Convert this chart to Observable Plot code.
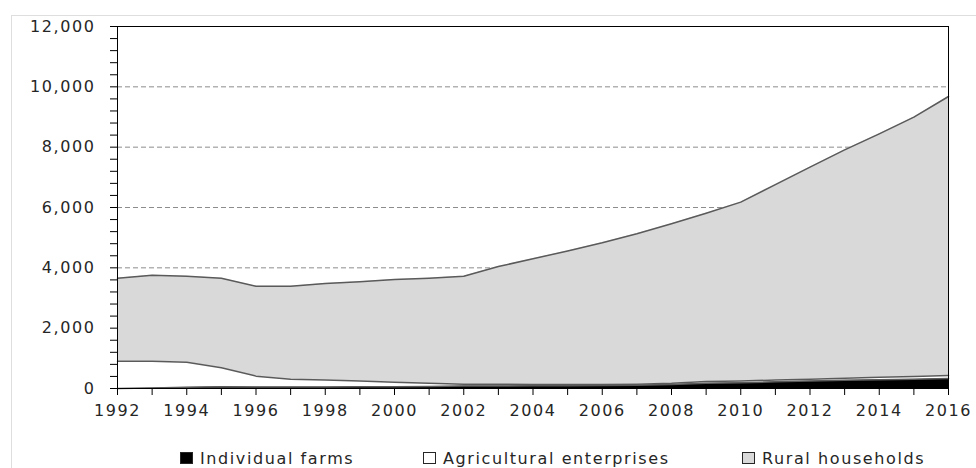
<!DOCTYPE html>
<html>
<head>
<meta charset="utf-8">
<script src="https://cdn.jsdelivr.net/npm/d3@7"></script>
<script src="https://cdn.jsdelivr.net/npm/@observablehq/plot@0.6"></script>
<style>
  html, body { margin: 0; padding: 0; background: #fff; }
  #wrap { position: relative; width: 976px; height: 468px; overflow: hidden; }
  #border { position: absolute; left: 11px; top: 15px; width: 1100px; height: 600px; border: 1px solid #dedede; box-sizing: border-box; }
  #chart { position: absolute; left: 0; top: 0; }
  #legend { position: absolute; left: 0; top: 448px; width: 976px; height: 20px; font-family: "DejaVu Sans", sans-serif; font-size: 16px; letter-spacing: 1.6px; color: #262626; }
  .item { position: absolute; top: 0; display: flex; align-items: center; height: 20px; white-space: nowrap; }
  .sw { width: 13px; height: 12px; box-sizing: border-box; margin-right: 7px; border: 1px solid #262626; }
</style>
</head>
<body>
<div id="wrap">
  <div id="border"></div>
  <div id="chart"></div>
  <div id="legend"></div>
</div>
<script>
const years = [1992,1993,1994,1995,1996,1997,1998,1999,2000,2001,2002,2003,2004,2005,2006,2007,2008,2009,2010,2011,2012,2013,2014,2015,2016];
const seriesNames = ["Individual farms", "Agricultural enterprises", "Rural households"];
const seriesColors = ["#000000", "#ffffff", "#d9d9d9"];
// values (stack components)
const individualFarms = [0, 20, 40, 60, 50, 50, 50, 55, 60, 70, 80, 85, 90, 95, 100, 110, 130, 170, 190, 220, 250, 270, 290, 310, 330];
const agriculturalEnterprises = [905, 885, 832, 630, 360, 260, 230, 190, 150, 100, 65, 55, 45, 35, 35, 30, 40, 60, 60, 60, 60, 70, 80, 90, 100];
const ruralHouseholds = [2751, 2851, 2851, 2967, 2982, 3082, 3200, 3291, 3403, 3487, 3578, 3904, 4165, 4430, 4695, 4990, 5290, 5580, 5927, 6480, 7027, 7570, 8072, 8595, 9250];
const yTicks = d3.range(0, 12001, 400);
const xTicks = years;

const seriesValues = [individualFarms, agriculturalEnterprises, ruralHouseholds];
const data = [];
seriesNames.forEach((s, i) => years.forEach((y, j) => data.push({year: y, series: s, value: seriesValues[i][j]})));

const chart = Plot.plot({
  width: 976,
  height: 432,
  marginLeft: 117,
  marginRight: 28,
  marginTop: 26,
  marginBottom: 44,
  style: {fontFamily: "DejaVu Sans, sans-serif", fontSize: "16px", color: "#262626", letterSpacing: "1.6px", background: "transparent"},
  x: {domain: [1992, 2016]},
  y: {domain: [0, 12000]},
  color: {domain: seriesNames, range: seriesColors},
  marks: [
    Plot.ruleY([4000, 6000, 8000, 10000], {stroke: "#8c8c8c", strokeDasharray: "5,3", strokeWidth: 1}),
    Plot.areaY(data, Plot.stackY({x: "year", y: "value", z: "series", fill: "series", order: seriesNames, curve: "linear"})),
    Plot.lineY(data, Plot.stackY2({x: "year", y: "value", z: "series", order: seriesNames, stroke: "#5a5a5a", strokeWidth: 1.5})),
    Plot.frame({stroke: "#000", strokeWidth: 1}),
    Plot.axisY({ticks: yTicks, tickSize: 7, tickPadding: 15, stroke: "#000", strokeOpacity: 1,
      tickFormat: d => d % 2000 === 0 ? d3.format(",")(d) : "", label: null}),
    Plot.axisX({ticks: xTicks, tickSize: 7, tickPadding: 9, stroke: "#000", strokeOpacity: 1,
      tickFormat: d => d % 2 === 0 ? String(d) : "", label: null})
  ]
});
document.getElementById("chart").appendChild(chart);

const legendX = [180, 423, 742];
const legend = document.getElementById("legend");
seriesNames.forEach((s, i) => {
  const item = document.createElement("div");
  item.className = "item";
  item.style.left = legendX[i] + "px";
  const sw = document.createElement("span");
  sw.className = "sw";
  sw.style.background = seriesColors[i];
  const t = document.createElement("span");
  t.textContent = s;
  item.appendChild(sw);
  item.appendChild(t);
  legend.appendChild(item);
});
</script>
</body>
</html>
